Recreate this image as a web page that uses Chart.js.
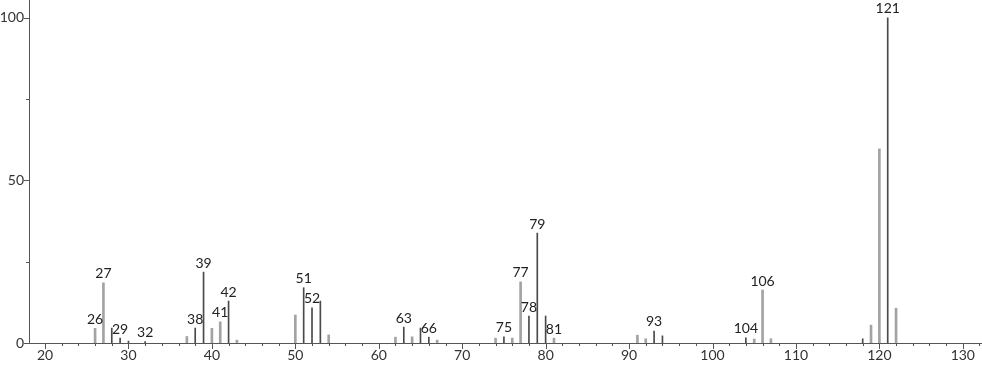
<!DOCTYPE html>
<html>
<head>
<meta charset="utf-8">
<script src="https://cdn.jsdelivr.net/npm/chart.js@4.4.1/dist/chart.umd.min.js"></script>
<style>
  html, body { margin: 0; padding: 0; background: #fff; }
  #wrap { width: 982px; height: 365px; }
</style>
</head>
<body>
<div id="wrap"><canvas id="ms"></canvas></div>
<script>
// m/z and relative intensity, dark sticks
const darkMz = [28, 29, 30, 32, 38, 39, 42, 51, 52, 53, 63, 65, 66, 75, 78, 79, 80, 93, 94, 104, 118, 121];
const darkInt = [4.6, 1.5, 0.6, 0.4, 4.6, 21.8, 12.9, 17.0, 10.8, 12.9, 4.9, 4.6, 1.8, 1.9, 8.3, 33.8, 8.3, 3.7, 2.2, 1.6, 1.3, 100];

// m/z and relative intensity, light sticks
const lightMz = [26, 27, 37, 40, 41, 43, 50, 54, 62, 64, 67, 74, 76, 77, 81, 91, 92, 105, 106, 107, 119, 120, 122];
const lightInt = [4.5, 18.5, 2.0, 4.5, 6.5, 0.9, 8.6, 2.5, 1.8, 1.9, 0.9, 1.5, 1.5, 18.8, 1.5, 2.4, 1.3, 1.2, 16.3, 1.3, 5.5, 59.7, 10.7];

// peaks that carry an m/z label
const labeledMz = [26, 27, 29, 32, 38, 39, 41, 42, 51, 52, 63, 66, 75, 77, 78, 79, 81, 93, 104, 106, 121];

const xMajor = [20, 30, 40, 50, 60, 70, 80, 90, 100, 110, 120, 130];
const yMajor = [0, 50, 100];

const FONT = "Lato, 'DejaVu Sans', sans-serif";

function toPoints(xs, ys) {
    return xs.map((x, i) => ({ x: x, y: ys[i] }));
}

const intensityOf = {};
darkMz.forEach((m, i) => { intensityOf[m] = darkInt[i]; });
lightMz.forEach((m, i) => { intensityOf[m] = lightInt[i]; });

// minor tick marks + peak labels
const decorations = {
    id: 'decorations',
    afterDatasetsDraw(chart) {
        const ctx = chart.ctx;
        const xs = chart.scales.x;
        const ys = chart.scales.y;
        const y0 = ys.getPixelForValue(0);
        const xLeft = xs.left;

        ctx.save();
        ctx.strokeStyle = '#555';
        ctx.lineWidth = 1;
        ctx.beginPath();
        for (let v = Math.ceil(xs.min / 2) * 2; v <= xs.max; v += 2) {
            const px = Math.round(xs.getPixelForValue(v)) + 0.5;
            const len = v % 10 === 0 ? 6 : 3;
            ctx.moveTo(px, y0);
            ctx.lineTo(px, y0 + len);
        }
        for (let v = 0; v <= ys.max; v += 25) {
            const py = Math.round(ys.getPixelForValue(v)) + 0.5;
            const len = v % 50 === 0 ? 5 : 3;
            ctx.moveTo(xLeft, py);
            ctx.lineTo(xLeft - len, py);
        }
        ctx.stroke();

        ctx.fillStyle = '#222';
        ctx.font = '14px ' + FONT;
        ctx.textAlign = 'center';
        ctx.textBaseline = 'bottom';
        labeledMz.forEach(m => {
            const px = xs.getPixelForValue(m);
            const py = ys.getPixelForValue(intensityOf[m]);
            ctx.fillText(String(m), px, py - 2);
        });
        ctx.restore();
    }
};

new Chart(document.getElementById('ms'), {
    type: 'bar',
    data: {
        datasets: [
            {
                label: 'light',
                data: toPoints(lightMz, lightInt),
                backgroundColor: '#a3a3a3',
                barThickness: 2,
                grouped: false
            },
            {
                label: 'dark',
                data: toPoints(darkMz, darkInt),
                backgroundColor: '#4a4a4a',
                barThickness: 1,
                grouped: false
            }
        ]
    },
    options: {
        responsive: true,
        maintainAspectRatio: false,
        animation: false,
        layout: { padding: 0 },
        plugins: {
            legend: { display: false },
            tooltip: { enabled: false }
        },
        scales: {
            x: {
                type: 'linear',
                min: 18.08,
                max: 132.3,
                offset: false,
                grid: { display: false, drawTicks: false, tickLength: 0 },
                border: { display: true, color: '#555', width: 1 },
                afterFit(scale) {
                    scale.height = 22;
                    scale.paddingLeft = 0;
                    scale.paddingRight = 0;
                },
                ticks: {
                    stepSize: 2,
                    includeBounds: false,
                    autoSkip: false,
                    maxRotation: 0,
                    padding: 4,
                    color: '#333',
                    font: { family: FONT, size: 14 },
                    callback(v) { return xMajor.includes(v) ? String(v) : ''; }
                }
            },
            y: {
                min: 0,
                max: 105.5,
                grid: { display: false, drawTicks: false, tickLength: 0 },
                border: { display: true, color: '#555', width: 1 },
                afterFit(scale) {
                    scale.width = 29;
                    scale.paddingTop = 0;
                    scale.paddingBottom = 0;
                },
                ticks: {
                    stepSize: 25,
                    includeBounds: false,
                    autoSkip: false,
                    padding: 5,
                    color: '#333',
                    font: { family: FONT, size: 14 },
                    callback(v) { return yMajor.includes(v) ? String(v) : ''; }
                }
            }
        }
    },
    plugins: [decorations]
});
</script>
</body>
</html>
